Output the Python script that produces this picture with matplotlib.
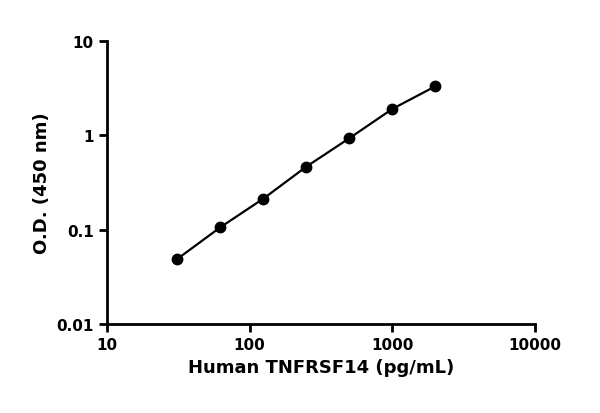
import matplotlib
matplotlib.use("Agg")
import matplotlib.pyplot as plt
import numpy as np

conc = [31.25, 62.5, 125, 250, 500, 1000, 2000]
od = [0.049, 0.106, 0.213, 0.465, 0.93, 1.9, 3.3]
xticks = [10, 100, 1000, 10000]
xticklabels = ["10", "100", "1000", "10000"]
yticks = [0.01, 0.1, 1, 10]
yticklabels = ["0.01", "0.1", "1", "10"]

plt.rcParams['font.family'] = ['DejaVu Sans']
plt.rcParams['font.weight'] = 'bold'
fig = plt.figure(figsize=(6, 4.14), dpi=100)
ax = fig.add_axes([0.178, 0.215, 0.714, 0.684])
ax.plot(conc, od, color='black', lw=1.6, marker='o', ms=7.5)
ax.set_xscale('log'); ax.set_yscale('log')
ax.set_xlim(10, 10000); ax.set_ylim(0.01, 10)
ax.set_xticks(xticks); ax.set_xticklabels(xticklabels)
ax.set_yticks(yticks); ax.set_yticklabels(yticklabels)
ax.minorticks_off()
for s in ['top', 'right']:
    ax.spines[s].set_visible(False)
for s in ['left', 'bottom']:
    ax.spines[s].set_linewidth(2)
ax.tick_params(width=2, length=6, labelsize=11)
for l in ax.get_xticklabels() + ax.get_yticklabels():
    l.set_fontweight('bold')
ax.set_xlabel("Human TNFRSF14 (pg/mL)", fontsize=13, fontweight='bold')
ax.set_ylabel("O.D. (450 nm)", fontsize=13, fontweight='bold')
fig.savefig("out.png", dpi=100)
